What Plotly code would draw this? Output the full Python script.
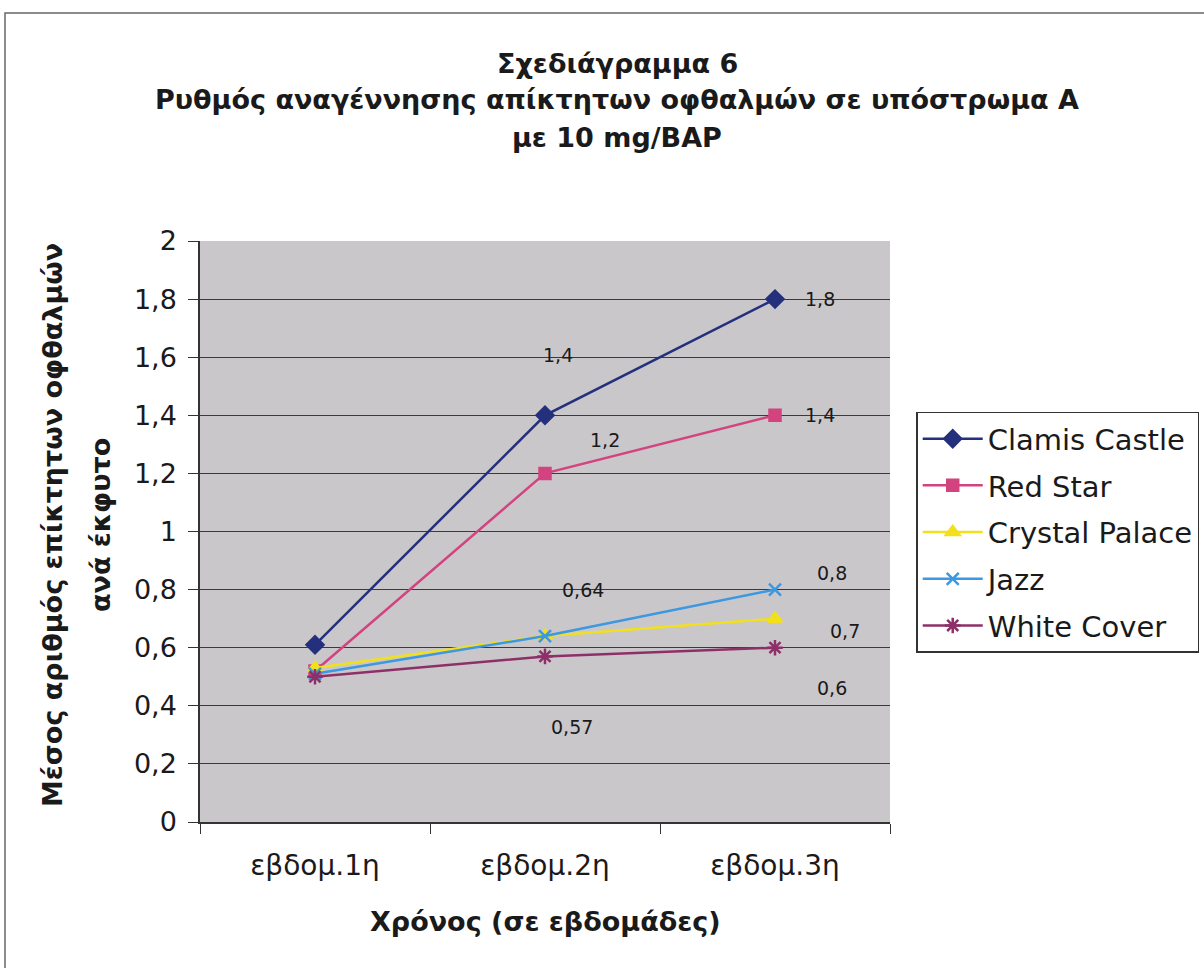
import plotly.graph_objects as go

weeks = ["εβδομ.1η", "εβδομ.2η", "εβδομ.3η"]
clamis_castle = [0.61, 1.4, 1.8]
red_star = [0.52, 1.2, 1.4]
crystal_palace = [0.53, 0.64, 0.7]
jazz = [0.51, 0.64, 0.8]
white_cover = [0.50, 0.57, 0.6]
y_ticks = [0, 0.2, 0.4, 0.6, 0.8, 1, 1.2, 1.4, 1.6, 1.8, 2]

title_lines = ["Σχεδιάγραμμα 6",
               "Ρυθμός αναγέννησης απίκτητων οφθαλμών σε υπόστρωμα Α",
               "με 10 mg/BAP"]
y_title_lines = ["Μέσος αριθμός επίκτητων οφθαλμών", "ανά έκφυτο"]
x_title = "Χρόνος (σε εβδομάδες)"

FONT = "DejaVu Sans, Liberation Sans, Arial"
TXT = "#1a1a1a"

series = [
    ("Clamis Castle", clamis_castle, "#24307c", "diamond", 13),
    ("Red Star", red_star, "#d2437f", "square", 11),
    ("Crystal Palace", crystal_palace, "#f2e01c", "triangle-up", 12),
    ("Jazz", jazz, "#3c98e0", "x-thin-open", 12),
    ("White Cover", white_cover, "#8e3068", "asterisk-open", 13),
]

fig = go.Figure()
for name, vals, col, sym, size in series:
    fig.add_trace(go.Scatter(
        x=weeks, y=vals, name=name, mode="lines+markers", legendgroup=name,
        line=dict(color=col, width=2.5),
        marker=dict(symbol=sym, size=size, color=col, line=dict(color=col, width=2.5)),
    ))

def fmt(v):
    return ("%g" % v).replace(".", ",")

# data labels: (series values, index, xshift, yshift)
labels = [
    (clamis_castle, 1, 13, 60),
    (red_star, 1, 60, 33),
    (jazz, 1, 38, 46),
    (white_cover, 1, 27, -71),
    (clamis_castle, 2, 45, 0),
    (red_star, 2, 45, 0),
    (jazz, 2, 57, 17),
    (crystal_palace, 2, 70, -12),
    (white_cover, 2, 57, -40),
]
for vals, i, xs, ys in labels:
    fig.add_annotation(x=weeks[i], y=vals[i], text=fmt(vals[i]), showarrow=False,
                       xshift=xs, yshift=ys,
                       font=dict(family=FONT, size=19, color=TXT))

# title lines
for line, yy in zip(title_lines, [1.306, 1.243, 1.179]):
    fig.add_annotation(xref="paper", yref="paper", x=0.605, y=yy, text="<b>%s</b>" % line,
                       showarrow=False, xanchor="center", yanchor="middle",
                       font=dict(family=FONT, size=27, color=TXT))
# y-axis title lines
for line, xx in zip(y_title_lines, [-0.2145, -0.145]):
    fig.add_annotation(xref="paper", yref="paper", x=xx, y=0.511, text="<b>%s</b>" % line,
                       showarrow=False, textangle=-90, xanchor="center", yanchor="middle",
                       font=dict(family=FONT, size=27, color=TXT))
# x-axis title
fig.add_annotation(xref="paper", yref="paper", x=0.5, y=-0.172, text="<b>%s</b>" % x_title,
                   showarrow=False, xanchor="center", yanchor="middle",
                   font=dict(family=FONT, size=27, color=TXT))

fig.update_layout(
    width=1204, height=968,
    margin=dict(l=200, r=314, t=241, b=146, autoexpand=False),
    paper_bgcolor="white",
    plot_bgcolor="#cac7cb",
    separators=",.",
    font=dict(family=FONT, color=TXT),
    showlegend=True,
    legend=dict(
        x=1.038, xanchor="left", y=0.706, yanchor="top",
        bordercolor="#333", borderwidth=1.5, bgcolor="white",
        font=dict(family=FONT, size=29, color=TXT),
        tracegroupgap=6, itemwidth=60,
    ),
)
fig.update_xaxes(
    type="category", range=[-0.5, 2.5], tickson="boundaries", ticks="outside", ticklen=10,
    tickcolor="#333", showline=True, linecolor="#333", linewidth=1.5,
    showgrid=False, tickfont=dict(size=28), ticklabelstandoff=18,
)
fig.update_yaxes(
    range=[0, 2], tickvals=y_ticks, ticks="outside", ticklen=10, tickcolor="#333",
    showline=True, linecolor="#333", linewidth=1.5,
    showgrid=True, gridcolor="#3a3a3a", gridwidth=1.2,
    tickfont=dict(size=27), zeroline=False, ticklabelstandoff=6,
)
fig.add_shape(type="rect", xref="paper", yref="paper",
              x0=-0.2826, x1=1.5, y0=-0.3, y1=1.3924,
              line=dict(color="#666", width=1.5), fillcolor="rgba(0,0,0,0)", layer="below")

fig.write_html("out.html")
